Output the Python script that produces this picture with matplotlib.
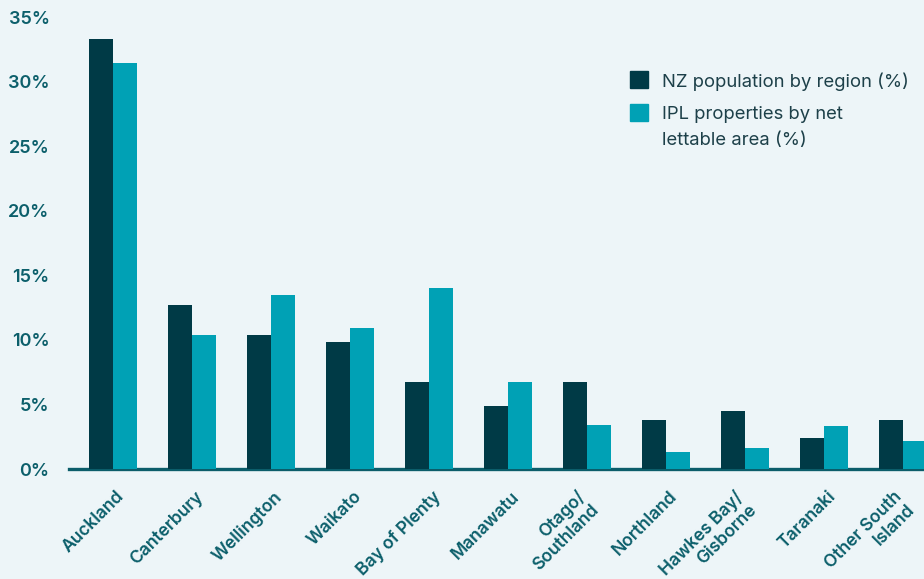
import matplotlib
matplotlib.use("Agg")
import matplotlib.pyplot as plt
import matplotlib.transforms as mtransforms
from matplotlib.patches import Rectangle
import numpy as np

regions = ["Auckland", "Canterbury", "Wellington", "Waikato", "Bay of Plenty",
           "Manawatu", "Otago/\nSouthland", "Northland", "Hawkes Bay/\nGisborne",
           "Taranaki", "Other South\nIsland"]
nz_population = [33.3, 12.7, 10.4, 9.8, 6.7, 4.9, 6.7, 3.8, 4.5, 2.4, 3.8]
ipl_nla = [31.4, 10.4, 13.5, 10.9, 14.0, 6.7, 3.4, 1.3, 1.6, 3.3, 2.2]
y_ticks = [0, 5, 10, 15, 20, 25, 30, 35]
series_labels = ["NZ population by region (%)", "IPL properties by net\nlettable area (%)"]

BG = "#edf5f8"
DARK = "#003a46"
TEAL = "#00a1b5"
TICK = "#0c5f6b"
LEGTXT = "#1d4049"

plt.rcParams['font.family'] = ['Inter', 'DejaVu Sans']

fig = plt.figure(figsize=(9.24, 5.79), dpi=100, facecolor=BG)
ax = fig.add_axes([69/924, 110/579, 855/924, 452/579])
ax.set_facecolor(BG)

x = np.arange(len(regions))
w = 0.3
ax.bar(x - w/2, nz_population, width=w, color=DARK, zorder=3)
ax.bar(x + w/2, ipl_nla, width=w, color=TEAL, zorder=3)

ax.set_xlim(-0.557, 10.266)
ax.set_ylim(0, 35)

for s in ["top", "right", "left"]:
    ax.spines[s].set_visible(False)
ax.spines["bottom"].set_color("#0b5d6a")
ax.spines["bottom"].set_linewidth(2.4)
ax.spines["bottom"].set_zorder(2)
ax.spines["bottom"].set_clip_on(False)

ax.set_yticks(y_ticks)
ax.set_yticklabels([f"{v}%" for v in y_ticks])
ax.tick_params(axis="y", length=0, pad=14, labelsize=13, labelcolor=TICK)
for lab in ax.get_yticklabels():
    lab.set_fontweight("semibold")

ax.set_xticks(x)
ax.set_xticklabels(regions, rotation=45, ha="right", va="top",
                   fontsize=12.6, color=TICK, fontweight="semibold",
                   linespacing=1.1)
ax.tick_params(axis="x", length=0, pad=0)
offset = mtransforms.ScaledTranslation(15/100, -19/100, fig.dpi_scale_trans)
for lab in ax.get_xticklabels():
    lab.set_transform(lab.get_transform() + offset)

# legend
ax.add_patch(Rectangle((0.656, 0.843), 0.0211, 0.0376, transform=ax.transAxes,
                       color=DARK, clip_on=False))
ax.add_patch(Rectangle((0.656, 0.770), 0.0211, 0.0376, transform=ax.transAxes,
                       color=TEAL, clip_on=False))
ax.text(0.6936, 0.857, series_labels[0], transform=ax.transAxes, va="center",
        ha="left", fontsize=13.3, color=LEGTXT)
ax.text(0.6936, 0.8035, series_labels[1], transform=ax.transAxes, va="top",
        ha="left", fontsize=13.3, color=LEGTXT, linespacing=1.7)

fig.savefig("out.png", dpi=100, facecolor=BG)
